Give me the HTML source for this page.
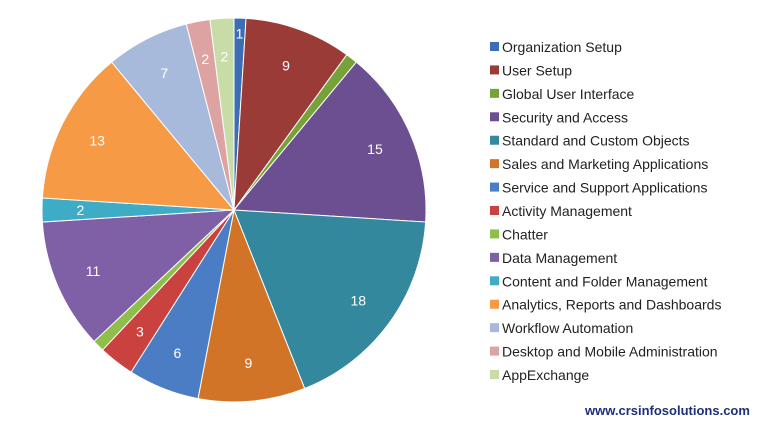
<!DOCTYPE html>
<html><head><meta charset="utf-8"><style>
body{margin:0;background:#fff;width:768px;height:427px;overflow:hidden;font-family:"Liberation Sans",sans-serif}
</style></head><body>
<svg id="s" width="768" height="427" xmlns="http://www.w3.org/2000/svg"></svg>
<script>
var d=[["Organization Setup",1,"#3D6DB5"],["User Setup",9,"#9B3B37"],["Global User Interface",1,"#77A23A"],["Security and Access",15,"#6B4F90"],["Standard and Custom Objects",18,"#33889E"],["Sales and Marketing Applications",9,"#D27428"],["Service and Support Applications",6,"#4A7DC4"],["Activity Management",3,"#C9423F"],["Chatter",1,"#8DBF4A"],["Data Management",11,"#7F5FA6"],["Content and Folder Management",2,"#3EACC6"],["Analytics, Reports and Dashboards",13,"#F79A45"],["Workflow Automation",7,"#A8BADB"],["Desktop and Mobile Administration",2,"#DDA3A3"],["AppExchange",2,"#C8DCA8"]];
var cx=234,cy=210,r=192,a=0,h="";
function p(t,rr){return [cx+rr*Math.sin(t),cy-rr*Math.cos(t)]}
d.forEach(function(e,i){var b=a+e[1]/100*2*Math.PI,s=p(a,r),f=p(b,r),m=p((a+b)/2,r*0.8);
h+='<path d="M'+cx+','+cy+'L'+s[0]+','+s[1]+'A'+r+','+r+' 0 '+(b-a>Math.PI?1:0)+' 1 '+f[0]+','+f[1]+'Z" fill="'+e[2]+'" stroke="#fff" stroke-width="1"/>';
if(e[1]>1||i==0)h+='<text x="'+(i==0?p((a+b)/2,r*0.92)[0]:m[0])+'" y="'+((i==0?p((a+b)/2,r*0.92)[1]:m[1])+5)+'" font-size="14" fill="#fff" text-anchor="middle">'+e[1]+'</text>';
var y=47+i*23.43;h+='<rect x="490" y="'+(y-5)+'" width="9" height="9" fill="'+e[2]+'"/><text x="502" y="'+(y+5)+'" font-size="14" fill="#222">'+e[0]+'</text>';
a=b;});
h+='<text x="585" y="415" font-size="13" font-weight="bold" fill="#1F2F7A">www.crsinfosolutions.com</text>';
document.getElementById('s').innerHTML=h;
</script>
</body></html>
